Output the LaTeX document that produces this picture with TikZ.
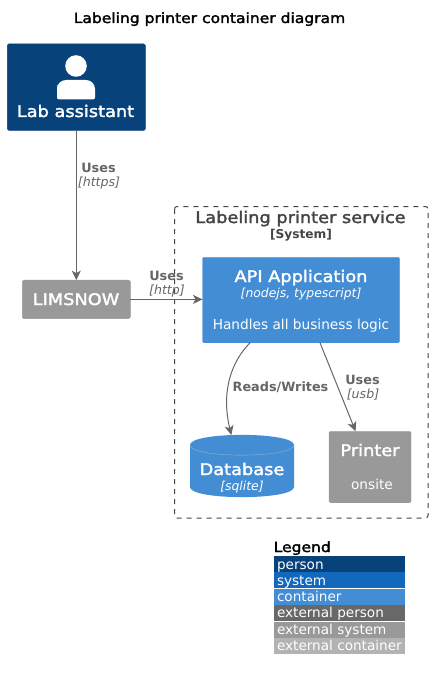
\documentclass[tikz,border=0pt]{standalone}
\usepackage{fontspec}
\setmainfont{DejaVu Sans}
\newfontfamily\wideface[FakeStretch=1.11,FakeBold=2]{DejaVu Sans}
\usetikzlibrary{arrows.meta}
\definecolor{cperson}{HTML}{08427B}
\definecolor{csystem}{HTML}{1168BD}
\definecolor{ccontainer}{HTML}{438DD5}
\definecolor{cextperson}{HTML}{686868}
\definecolor{cextsystem}{HTML}{999999}
\definecolor{cextcontainer}{HTML}{B3B3B3}
\definecolor{cline}{HTML}{666666}
\definecolor{cbound}{HTML}{444444}
\newcommand{\fnt}[1]{\fontsize{#1}{#1}\selectfont}
\newcommand{\wfnt}[1]{\fontsize{#1}{#1}\wideface}
\tikzset{
  box/.style={rectangle,rounded corners=1.5pt,inner sep=0pt,outer sep=0pt,draw=#1,fill=#1},
  txt/.style={anchor=base,inner sep=0pt,outer sep=0pt,text=white},
  rel/.style={draw=cline,line width=1pt,-{Stealth[length=9.5pt,width=9pt,inset=2.5pt,fill=cline]}},
  rellabel/.style={anchor=base,inner sep=0pt,outer sep=0pt,text=cline},
  legendrow/.style={rectangle,inner sep=0pt,outer sep=0pt,anchor=north west,minimum width=131pt,fill=#1},
  legendtext/.style={anchor=base west,inner sep=0pt,outer sep=0pt,text=white,font=\fnt{13.6}},
}
\begin{document}
\begin{tikzpicture}[x=1pt,y=-1pt]
\useasboundingbox (0,0) rectangle (432,676);
\node[anchor=base,inner sep=0pt,text=black,font=\wfnt{14}] (title) at (209.5,23) {Labeling printer container diagram};

% person
\node[box=cperson,minimum width=138pt,minimum height=86.5pt] (person) at (76.3,87.2) {};
\fill[white] (76,66) circle (10.8pt);
\fill[white,rounded corners=6pt] (57,99.5) -- (57,90) [rounded corners=9pt] -- (57,80) -- (95,80) [rounded corners=2pt] -- (95,99.5) -- cycle;
\node[txt,font=\wfnt{16}] (personname) at (75.5,117) {Lab assistant};

% limsnow
\node[box=cextsystem,minimum width=108pt,minimum height=38.5pt] (limsnow) at (76.3,299.4) {};
\node[txt,font=\wfnt{16}] (limsnowname) at (76,305) {LIMSNOW};

% boundary
\draw[cbound,line width=1pt,dash pattern=on 5pt off 5pt,rounded corners=2.5pt] (174.5,206.5) rectangle (428,518);
\node[anchor=base,inner sep=0pt,text=cbound,font=\wfnt{16}] (boundary) at (300.5,223) {Labeling printer service};
\node[anchor=base,inner sep=0pt,text=cbound,font=\fnt{12.2}\bfseries] (boundarytype) at (301,238) {[System]};

% api
\node[box=ccontainer,minimum width=197pt,minimum height=85.5pt] (api) at (301,300) {};
\node[txt,font=\wfnt{16}] (apiname) at (301,282) {API Application};
\node[txt,font=\fnt{12.4}\itshape] (apitech) at (301,297) {[nodejs, typescript]};
\node[txt,font=\fnt{13.7}] (apidesc) at (301,329) {Handles all business logic};

% database
\node[rectangle,inner sep=0pt,outer sep=0pt,minimum width=104pt,minimum height=62pt] (db) at (242,466) {};
\fill[ccontainer] (190,445) .. controls (190,431.5) and (294,431.5) .. (294,445) -- (294,487) .. controls (294,500.5) and (190,500.5) .. (190,487) -- cycle;
\draw[white!60!ccontainer!85!black,line width=0.4pt] (190,445) .. controls (190,458.5) and (294,458.5) .. (294,445);
\node[txt,font=\wfnt{16}] (dbname) at (242,475) {Database};
\node[txt,font=\fnt{12.4}\itshape] (dbtech) at (242,490) {[sqlite]};

% printer
\node[box=cextsystem,minimum width=82pt,minimum height=71.5pt] (printer) at (370,467) {};
\node[txt,font=\wfnt{16}] (printername) at (370,456) {Printer};
\node[txt,font=\fnt{13.7}] (printerdesc) at (372,489) {onsite};

% relations
\draw[rel] (person.south) -- (limsnow.north);
\draw[rel] (limsnow.east) -- (limsnow.east -| api.west);
\draw[rel] (api.220.7) .. controls (231,362) and (221,392) .. (db.109.5);
\draw[rel] (api.-66.2) -- (printer.112.6);

\node[rellabel,font=\fnt{12.8}\bfseries] (l1a) at (98.5,173) {Uses};
\node[rellabel,font=\fnt{12.6}\itshape] (l1b) at (99,187) {[https]};
\node[rellabel,font=\fnt{12.8}\bfseries] (l2a) at (166.5,280) {Uses};
\node[rellabel,font=\fnt{12.6}\itshape] (l2b) at (167,294) {[http]};
\node[rellabel,font=\fnt{12.8}\bfseries] (l3) at (280.5,391) {Reads/Writes};
\node[rellabel,font=\fnt{12.8}\bfseries] (l4a) at (362.5,384) {Uses};
\node[rellabel,font=\fnt{12.6}\itshape] (l4b) at (363,398) {[usb]};

% legend
\node[anchor=base west,inner sep=0pt,text=black,font=\wfnt{14}] (legend) at (273.5,552) {Legend};
\node[legendrow=cperson,minimum height=15.5pt] (r1) at (274,556) {};
\node[legendrow=csystem,minimum height=16pt] (r2) at (274,572) {};
\node[legendrow=ccontainer,minimum height=15.5pt] (r3) at (274,589) {};
\node[legendrow=cextperson,minimum height=15.5pt] (r4) at (274,605) {};
\node[legendrow=cextsystem,minimum height=15.5pt] (r5) at (274,622) {};
\node[legendrow=cextcontainer,minimum height=15.5pt] (r6) at (274,638) {};
\node[legendtext] (t1) at (277,569) {person};
\node[legendtext] (t2) at (277,585) {system};
\node[legendtext] (t3) at (277,601) {container};
\node[legendtext] (t4) at (277,617.5) {external person};
\node[legendtext] (t5) at (277,634) {external system};
\node[legendtext] (t6) at (277,650) {external container};
\end{tikzpicture}
\end{document}
